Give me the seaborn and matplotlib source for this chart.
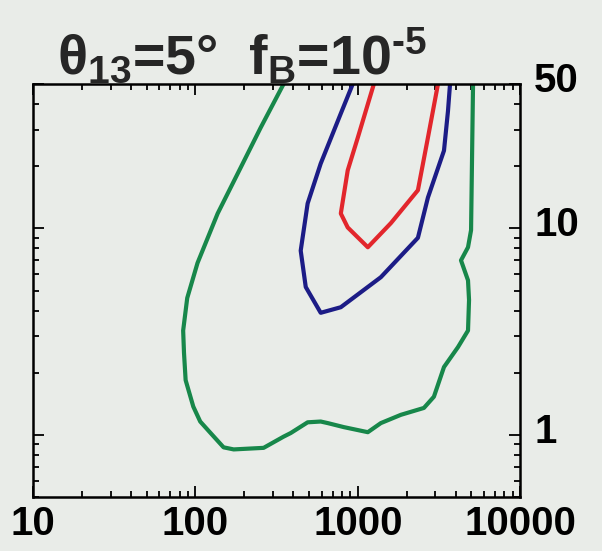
import numpy as np
import pandas as pd
import matplotlib
matplotlib.use("Agg")
import matplotlib.pyplot as plt
import matplotlib.transforms as mtransforms
import seaborn as sns

# Contour outlines (x, y) for three confidence levels
green_x = [349, 252, 190, 137, 103, 89, 84, 85, 87, 97, 107, 124, 149, 172, 263, 349,
           386, 491, 591, 653, 820, 1153, 1387, 1842, 2555, 2944, 3396, 4142, 4775,
           4845, 4775, 4323, 4775, 4986, 5128]
green_y = [50, 30.7, 19.7, 11.8, 6.8, 4.6, 3.2, 2.5, 1.84, 1.37, 1.16, 1.02, 0.87, 0.85,
           0.865, 0.98, 1.02, 1.15, 1.16, 1.14, 1.09, 1.03, 1.14, 1.25, 1.35, 1.53, 2.13,
           2.66, 3.2, 4.5, 5.6, 7.0, 8.1, 9.8, 50]

blue_x = [931, 786, 591, 491, 445, 478, 591, 786, 1387, 2346, 2704, 3396, 3594, 3700]
blue_y = [50, 36, 20.6, 13.2, 7.8, 5.2, 3.9, 4.15, 5.8, 9.0, 14.1, 23.8, 37, 50]

red_x = [1256, 1000, 867, 786, 867, 1153, 1599, 2346, 2704, 3119]
red_y = [50, 27.5, 19.1, 11.8, 10.1, 8.1, 10.6, 15.3, 27.5, 50]

x_ticks = [10, 100, 1000, 10000]
x_tick_labels = ["10", "100", "1000", "10000"]
y_ticks = [1, 10, 50]
y_tick_labels = ["1", "10", "50"]

bg = "#e9ece8"
sns.set_theme(style="ticks")
plt.rcParams.update({
    "font.family": ["Liberation Sans", "DejaVu Sans"],
    "font.weight": "bold",
    "mathtext.fontset": "custom",
    "mathtext.rm": "Liberation Sans:bold",
    "mathtext.bf": "Liberation Sans:bold",
    "mathtext.it": "Liberation Sans:bold",
    "figure.facecolor": bg,
    "axes.facecolor": bg,
})

fig = plt.figure(figsize=(6.02, 5.51), dpi=100)
ax = fig.add_axes([0.055, 0.098, 0.809, 0.7495])

curves = [
    (green_x, green_y, "#17874a"),
    (blue_x, blue_y, "#1c1c86"),
    (red_x, red_y, "#e2262c"),
]
for xs, ys, col in curves:
    df = pd.DataFrame({"x": xs, "y": ys})
    sns.lineplot(data=df, x="x", y="y", sort=False, estimator=None,
                 color=col, lw=3.0, ax=ax)

ax.set_xscale("log")
ax.set_yscale("log")
ax.set_xlim(10, 10000)
ax.set_ylim(0.5, 50)
ax.set_xticks(x_ticks)
ax.set_xticklabels(x_tick_labels)
ax.set_yticks(y_ticks)
ax.set_yticklabels(y_tick_labels)
ax.set_xlabel("")
ax.set_ylabel("")

for side in ax.spines.values():
    side.set_linewidth(1.8)
    side.set_color("black")

ax.tick_params(axis="both", which="both", direction="in", top=True, right=True,
               left=True, bottom=True, colors="black", width=1.3)
ax.tick_params(axis="both", which="major", length=8, labelsize=29)
ax.tick_params(axis="both", which="minor", length=4.5)
ax.tick_params(axis="y", labelleft=False, labelright=True, pad=10)
ax.tick_params(axis="x", pad=6)
for lbl in ax.get_xticklabels() + ax.get_yticklabels():
    lbl.set_fontweight("bold")

# right-hand labels sit a little above their ticks
lift = mtransforms.ScaledTranslation(0, 7 / 100, fig.dpi_scale_trans)
for lbl in ax.get_yticklabels():
    lbl.set_transform(lbl.get_transform() + lift)

fig.text(0.094, 0.866, "θ$_{13}$=5°  f$_{B}$=10$^{\u20105}$", fontsize=40,
         fontweight="bold", ha="left", va="baseline",
         family=["Liberation Sans", "DejaVu Sans"])

fig.savefig("out.png", dpi=100, facecolor=bg)
